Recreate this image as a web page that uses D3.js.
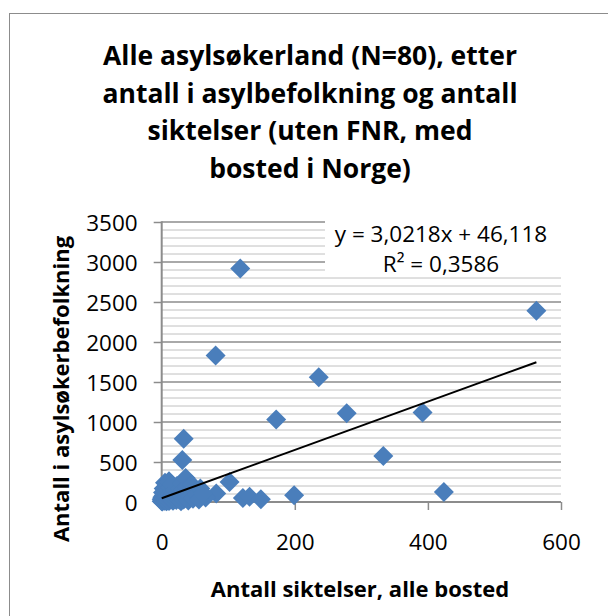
<!DOCTYPE html>
<html>
<head>
<meta charset="utf-8">
<script src="https://cdn.jsdelivr.net/npm/d3@7.9.0/dist/d3.min.js"></script>
<style>
  body { margin: 0; background: #fff; }
  svg { display: block; }
  .tick text { font-family: "Open Sans", sans-serif; font-size: 22.5px; fill: #000; }
  .bold { font-family: "Open Sans", sans-serif; font-weight: bold; fill: #000; }
</style>
</head>
<body>
<svg id="chart" width="608" height="616"></svg>
<script>
// title lines
const titleLines = [
    "Alle asylsøkerland (N=80), etter",
    "antall i asylbefolkning og antall",
    "siktelser (uten FNR, med",
    "bosted i Norge)"
];
const xTitle = "Antall siktelser, alle bosted";
const yTitle = "Antall i asylsøkerbefolkning";

const xTicks = [0, 200, 400, 600];
const yTicks = [0, 500, 1000, 1500, 2000, 2500, 3000, 3500];

// x = antall siktelser, y = antall i asylbefolkning (one pair per country)
const siktelser = [
    563, 118, 81, 236, 278, 392, 172, 33, 31, 333,
    424, 199, 102, 122, 132, 149, 82, 66,
    0, 0, 1, 1, 2, 2, 3, 3, 4, 4,
    5, 5, 6, 6, 7, 7, 8, 8, 9, 9,
    10, 10, 11, 11, 12, 13, 13, 14, 15, 15,
    16, 17, 18, 19, 20, 21, 22, 23, 24, 25,
    26, 27, 28, 29, 30, 31, 32, 33, 34, 36,
    37, 38, 40, 41, 43, 45, 47, 50, 53, 56,
    58, 62
];
const asylbefolkning = [
    2390, 2920, 1830, 1560, 1110, 1120, 1030, 790, 525, 575,
    125, 85, 250, 50, 65, 35, 105, 55,
    10, 35, 60, 5, 120, 25, 80, 170, 15, 45,
    240, 95, 30, 140, 8, 60, 200, 110, 20, 75,
    150, 40, 260, 12, 95, 180, 55, 30, 130, 220,
    70, 15, 110, 45, 160, 85, 25, 200, 60, 120,
    35, 90, 170, 10, 230, 65, 140, 30, 100, 300,
    50, 180, 20, 130, 70, 220, 40, 150, 90, 30,
    170, 110
];

// linear trend as reported by the chart
const trendSlope = 3.0218;
const trendIntercept = 46.118;
const trendLabel = ["y = 3,0218x + 46,118", "R\u00B2 = 0,3586"];

const svg = d3.select("#chart");

const x = d3.scaleLinear().domain([0, 600]).range([161.7, 561]);
const y = d3.scaleLinear().domain([0, 3500]).range([502, 222]);

// chart border
svg.append("rect")
    .attr("x", 9.5).attr("y", 13.5)
    .attr("width", 640).attr("height", 640)
    .attr("fill", "none").attr("stroke", "#8c8c8c");

// title
svg.append("text")
    .attr("class", "bold")
    .attr("text-anchor", "middle")
    .style("font-size", "26.5px")
    .selectAll("tspan")
    .data(titleLines)
    .join("tspan")
    .attr("x", 310)
    .attr("y", (d, i) => 65 + i * 37.5)
    .text(d => d);

// gridlines
const grid = svg.append("g");
grid.selectAll("line.minor")
    .data(d3.range(100, 3501, 100).filter(v => v % 500 !== 0))
    .join("line")
    .attr("class", "minor")
    .attr("x1", x(0)).attr("x2", x(600))
    .attr("y1", d => y(d)).attr("y2", d => y(d))
    .attr("stroke", "#c0c0c0").attr("stroke-width", 1);
grid.selectAll("line.major")
    .data(yTicks.filter(v => v > 0))
    .join("line")
    .attr("class", "major")
    .attr("x1", x(0)).attr("x2", x(600))
    .attr("y1", d => y(d)).attr("y2", d => y(d))
    .attr("stroke", "#8c8c8c").attr("stroke-width", 1.5);

// trendline label box covers the grid
svg.append("rect")
    .attr("x", 325).attr("y", 214)
    .attr("width", 238).attr("height", 62)
    .attr("fill", "#fff");
svg.append("text")
    .attr("text-anchor", "middle")
    .style("font-family", "'Open Sans', sans-serif")
    .style("font-size", "22.5px")
    .selectAll("tspan")
    .data(trendLabel)
    .join("tspan")
    .attr("x", 441)
    .attr("y", (d, i) => 242 + i * 30)
    .text(d => d);

// axes
const yAxis = svg.append("g")
    .attr("transform", `translate(${x(0)},0)`)
    .call(d3.axisLeft(y).tickValues(yTicks).tickSize(8).tickPadding(16).tickFormat(d3.format("d")));
const xAxis = svg.append("g")
    .attr("transform", `translate(0,${y(0)})`)
    .call(d3.axisBottom(x).tickValues(xTicks).tickSize(8).tickPadding(24).tickFormat(d3.format("d")));
[yAxis, xAxis].forEach(a => {
    a.select(".domain").remove();
    a.selectAll(".tick line").attr("stroke", "#8c8c8c").attr("stroke-width", 1.5);
});
yAxis.selectAll(".tick text").attr("dy", "0.36em");
svg.append("line")
    .attr("x1", x(0)).attr("x2", x(0)).attr("y1", y(3500) - 0.75).attr("y2", y(0))
    .attr("stroke", "#8c8c8c").attr("stroke-width", 2);
svg.append("line")
    .attr("x1", x(0)).attr("x2", x(600)).attr("y1", y(0)).attr("y2", y(0))
    .attr("stroke", "#8c8c8c").attr("stroke-width", 2);

// axis titles
svg.append("text")
    .attr("class", "bold")
    .attr("text-anchor", "middle")
    .style("font-size", "22px")
    .attr("x", 360).attr("y", 597)
    .text(xTitle);
svg.append("text")
    .attr("class", "bold")
    .attr("text-anchor", "middle")
    .style("font-size", "22px")
    .attr("transform", "translate(69,389) rotate(-90)")
    .text(yTitle);

// points
const points = siktelser.map((v, i) => ({ x: v, y: asylbefolkning[i] }));
const diamond = d3.symbol().type(d3.symbolSquare).size(200);
svg.append("g")
    .selectAll("path")
    .data(points)
    .join("path")
    .attr("d", diamond)
    .attr("transform", d => `translate(${x(d.x)},${y(d.y)}) rotate(45)`)
    .attr("fill", "#4a7ebb");

// trendline
const xMin = d3.min(siktelser), xMax = d3.max(siktelser);
svg.append("line")
    .attr("x1", x(xMin)).attr("y1", y(trendSlope * xMin + trendIntercept))
    .attr("x2", x(xMax)).attr("y2", y(trendSlope * xMax + trendIntercept))
    .attr("stroke", "#000").attr("stroke-width", 2);
</script>
</body>
</html>
